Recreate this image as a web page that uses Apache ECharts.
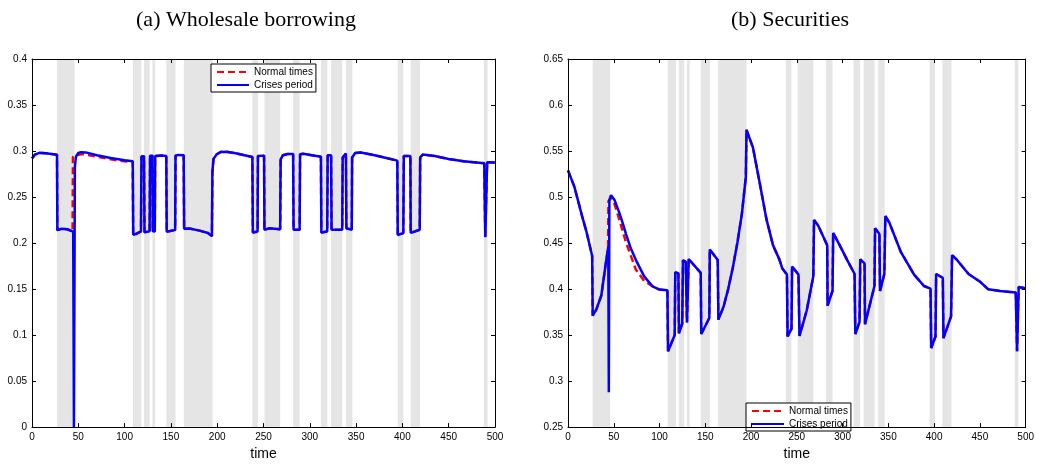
<!DOCTYPE html>
<html>
<head>
<meta charset="utf-8">
<script src="https://cdn.jsdelivr.net/npm/echarts@6/dist/echarts.min.js"></script>
<style>
  html, body { margin: 0; padding: 0; background: #fff; }
  #chart { width: 1037px; height: 466px; }
</style>
</head>
<body>
<div id="chart"></div>
<script>
// Crisis periods (shaded), in model time units
const crisisBands = [
  [27, 46], [109, 118], [121, 127], [130, 133], [145, 155], [164, 195],
  [238, 244], [251, 268], [282, 289], [312, 319], [323, 335], [339, 346],
  [395, 401], [409, 419], [488, 492]
];

// Panel (a): wholesale borrowing, [time, value]
const wholesaleCrisis = [
  [0,0.292],[3,0.296],[8,0.298],[15,0.2975],[27,0.296],
  [27.4,0.214],[32,0.2155],[38,0.215],[44.5,0.2125],
  [45.3,0],[45.9,0],[46.3,0.283],[47.5,0.294],[50,0.2978],[53,0.2988],[58,0.2985],[70,0.2955],[85,0.2925],[100,0.29],[108.8,0.2888],
  [109.3,0.209],[112,0.2098],[117.7,0.2128],
  [118.2,0.294],[121,0.2943],
  [121.5,0.2118],[127,0.2128],
  [127.5,0.2948],[130,0.295],
  [130.4,0.2128],[132.6,0.2128],
  [133,0.2945],[140,0.2952],[145,0.2945],
  [145.5,0.2122],[154.6,0.2143],
  [155,0.295],[158,0.2958],[163.8,0.2955],
  [164.3,0.2155],[170,0.2158],[181,0.2135],[190,0.211],[194.3,0.2075],
  [194.8,0.277],[196,0.2915],[199.5,0.2965],[204,0.299],[210,0.2993],[220,0.2975],[238,0.2935],
  [238.5,0.2115],[243.6,0.2125],
  [244,0.2945],[250.6,0.295],
  [251,0.2145],[256,0.216],[268,0.215],
  [268.5,0.291],[271,0.2955],[276,0.2968],[282,0.2968],
  [282.5,0.2145],[289,0.2145],
  [289.5,0.2965],[293,0.297],[312,0.2938],
  [312.5,0.2115],[318.8,0.2125],
  [319.3,0.2955],[323,0.2955],
  [323.5,0.2145],[335,0.2145],
  [335.5,0.2928],[339,0.2972],
  [339.5,0.216],[345.3,0.2145],
  [345.7,0.293],[349,0.2978],[355,0.2985],[370,0.2955],[385,0.2918],[394.5,0.2896],
  [395,0.2088],[401,0.2108],
  [401.5,0.2945],[408.6,0.2945],
  [409,0.211],[418.7,0.2145],
  [419.2,0.293],[422,0.2962],[435,0.2945],[450,0.2913],[466,0.2888],[488.4,0.2867],
  [489.5,0.2064],[491.5,0.2878],[500,0.2874]
];

const wholesaleNormal = [
  [0,0.292],[3,0.296],[8,0.298],[15,0.2975],[27,0.296],
  [27.4,0.214],[32,0.2155],[38,0.215],[43.8,0.2125],
  [44.2,0.2935],[47,0.2955],[55,0.2968],[70,0.294],[85,0.291],[100,0.2888],[108.8,0.288],
  [109.3,0.2085],[112,0.2098],[117.7,0.2128],
  [118.2,0.294],[121,0.2943],
  [121.5,0.2118],[127,0.2128],
  [127.5,0.2948],[130,0.295],
  [130.4,0.2128],[132.6,0.2128],
  [133,0.2945],[140,0.2952],[145,0.2945],
  [145.5,0.2122],[154.6,0.2143],
  [155,0.295],[158,0.2958],[163.8,0.2955],
  [164.3,0.2155],[170,0.2158],[181,0.2135],[190,0.211],[194.3,0.2075],
  [194.8,0.277],[196,0.2915],[199.5,0.2965],[204,0.299],[210,0.2993],[220,0.2975],[238,0.2935],
  [238.5,0.2115],[243.6,0.2125],
  [244,0.2945],[250.6,0.295],
  [251,0.2145],[256,0.216],[268,0.215],
  [268.5,0.291],[271,0.2955],[276,0.2968],[282,0.2968],
  [282.5,0.2145],[289,0.2145],
  [289.5,0.2965],[293,0.297],[312,0.2938],
  [312.5,0.2115],[318.8,0.2125],
  [319.3,0.2955],[323,0.2955],
  [323.5,0.2145],[335,0.2145],
  [335.5,0.2928],[339,0.2972],
  [339.5,0.216],[345.3,0.2145],
  [345.7,0.293],[349,0.2978],[355,0.2985],[370,0.2955],[385,0.2918],[394.5,0.2896],
  [395,0.2088],[401,0.2108],
  [401.5,0.2945],[408.6,0.2945],
  [409,0.211],[418.7,0.2145],
  [419.2,0.293],[422,0.2962],[435,0.2945],[450,0.2913],[466,0.2888],[488.4,0.2867],
  [489.5,0.2064],[491.5,0.2878],[500,0.2874]
];

// Panel (b): securities, [time, value]
const securitiesCrisis = [
  [0,0.529],[7,0.511],[16,0.477],[20,0.463],[26.4,0.436],
  [27,0.371],[31,0.378],[36.4,0.393],[41.6,0.43],[44,0.446],
  [44.6,0.288],[45.2,0.497],[47,0.502],[50.7,0.497],[56,0.483],[59.7,0.472],[63.3,0.46],[68.7,0.444],[74.2,0.4315],[83.2,0.4138],[92.3,0.403],[100,0.3995],[108.6,0.3987],
  [109.3,0.3325],[116.6,0.35],
  [117.2,0.4185],[120.6,0.417],
  [121.2,0.352],[124.8,0.3626],
  [125.6,0.4312],[128.6,0.4295],
  [130,0.3638],[131.2,0.3645],
  [131.8,0.4327],[145,0.4176],
  [145.6,0.3512],[154.4,0.3685],
  [154.9,0.443],[163.6,0.4316],
  [164.3,0.3668],[170,0.381],[175,0.4],[180,0.423],[185,0.45],[190,0.482],[194.3,0.522],
  [195,0.573],[196.5,0.5725],[202,0.554],[209.5,0.515],[216.8,0.476],[224,0.4475],[231,0.432],[234,0.4227],[239.2,0.4157],
  [239.9,0.3484],[244.2,0.357],
  [244.8,0.4245],[251.8,0.4157],
  [252.9,0.349],[260.8,0.3767],[268,0.4139],
  [268.8,0.475],[273.4,0.4688],[283.2,0.4475],
  [283.6,0.382],[289,0.398],
  [289.7,0.461],[296.9,0.4475],[305.9,0.4298],[313.1,0.4164],
  [313.9,0.3512],[318.5,0.3643],
  [319.3,0.4323],[324,0.428],
  [324.5,0.3619],[334.8,0.4033],
  [335.5,0.466],[340.2,0.4599],
  [340.9,0.398],[345.6,0.4164],
  [346.7,0.4794],[351,0.4723],[363.6,0.4404],[378.1,0.4157],[388.9,0.4033],[396.1,0.4004],
  [396.8,0.336],[401.5,0.3484],
  [402.2,0.4164],[409.5,0.4121],
  [410.2,0.3466],[418.5,0.3704],
  [419.6,0.4369],[425,0.4316],[437.6,0.4164],[450.2,0.4079],[459.2,0.3997],[471.9,0.398],[489.2,0.3962],
  [490.6,0.3325],[492.4,0.4022],[500,0.4008]
];

const securitiesNormal = [
  [0,0.529],[7,0.511],[16,0.477],[20,0.463],[26.4,0.436],
  [27,0.371],[31,0.378],[36.4,0.393],[41.6,0.43],[43.8,0.444],
  [44.2,0.4955],[47,0.4985],[50,0.495],[56,0.4758],[63.3,0.451],[68.7,0.436],[74.2,0.421],[83.2,0.409],[92.3,0.403],[100,0.3995],[108.6,0.3987],
  [109.3,0.3325],[116.6,0.35],
  [117.2,0.4185],[120.6,0.417],
  [121.2,0.352],[124.8,0.3626],
  [125.6,0.4312],[128.6,0.4295],
  [130,0.3638],[131.2,0.3645],
  [131.8,0.4327],[145,0.4176],
  [145.6,0.3512],[154.4,0.3685],
  [154.9,0.443],[163.6,0.4316],
  [164.3,0.3668],[170,0.381],[175,0.4],[180,0.423],[185,0.45],[190,0.482],[194.3,0.522],
  [195,0.573],[196.5,0.5725],[202,0.554],[209.5,0.515],[216.8,0.476],[224,0.4475],[231,0.432],[234,0.4227],[239.2,0.4157],
  [239.9,0.3484],[244.2,0.357],
  [244.8,0.4245],[251.8,0.4157],
  [252.9,0.349],[260.8,0.3767],[268,0.4139],
  [268.8,0.475],[273.4,0.4688],[283.2,0.4475],
  [283.6,0.382],[289,0.398],
  [289.7,0.461],[296.9,0.4475],[305.9,0.4298],[313.1,0.4164],
  [313.9,0.3512],[318.5,0.3643],
  [319.3,0.4323],[324,0.428],
  [324.5,0.3619],[334.8,0.4033],
  [335.5,0.466],[340.2,0.4599],
  [340.9,0.398],[345.6,0.4164],
  [346.7,0.4794],[351,0.4723],[363.6,0.4404],[378.1,0.4157],[388.9,0.4033],[396.1,0.4004],
  [396.8,0.336],[401.5,0.3484],
  [402.2,0.4164],[409.5,0.4121],
  [410.2,0.3466],[418.5,0.3704],
  [419.6,0.4369],[425,0.4316],[437.6,0.4164],[450.2,0.4079],[459.2,0.3997],[471.9,0.398],[489.2,0.3962],
  [490.6,0.3325],[492.4,0.4022],[500,0.4008]
];

const panelTitles = ['(a) Wholesale borrowing', '(b) Securities'];
const seriesNames = ['Normal times', 'Crises period'];

const SANS = '"Liberation Sans", Arial, sans-serif';
const bandAreas = crisisBands.map(([s, e]) => [{ xAxis: s }, { xAxis: e }]);

function xAxisFor(grid, pos) {
  return {
    type: 'value', gridIndex: grid, position: pos,
    min: 0, max: 500, interval: 50, z: 10,
    name: pos === 'bottom' ? 'time' : '',
    nameLocation: 'middle', nameGap: 15,
    nameTextStyle: { fontFamily: SANS, fontSize: 14, color: '#000' },
    axisLine: { show: true, onZero: false, lineStyle: { color: '#000', width: 1 } },
    axisTick: { show: true, inside: true, length: 4, lineStyle: { color: '#000', width: 1 } },
    axisLabel: { show: pos === 'bottom', margin: 5, fontFamily: SANS, fontSize: 10, color: '#000' },
    splitLine: { show: false }
  };
}
function yAxisFor(grid, pos, min, max) {
  return {
    type: 'value', gridIndex: grid, position: pos,
    min: min, max: max, interval: 0.05, z: 10,
    axisLine: { show: true, onZero: false, lineStyle: { color: '#000', width: 1 } },
    axisTick: { show: true, inside: true, length: 4, lineStyle: { color: '#000', width: 1 } },
    axisLabel: { show: pos === 'left', margin: 5, fontFamily: SANS, fontSize: 10, color: '#000' },
    splitLine: { show: false }
  };
}
function lineSeries(name, data, xi, yi, isNormal, withBands) {
  const s = {
    name: name, type: 'line', xAxisIndex: xi, yAxisIndex: yi,
    data: data, symbol: 'none', animation: false,
    z: isNormal ? 2 : 3,
    itemStyle: { color: isNormal ? '#ff0000' : '#0000ff' },
    lineStyle: isNormal
      ? { color: '#ff0000', width: 2.5, type: [7, 4] }
      : { color: '#0000ff', width: 2.5 }
  };
  if (withBands) {
    s.markArea = { silent: true, itemStyle: { color: '#e5e5e5' }, data: bandAreas };
  }
  return s;
}
function legendAt(left, top) {
  return {
    data: seriesNames, orient: 'vertical', left: left, top: top,
    selectedMode: false, itemWidth: 32, itemHeight: 11, itemGap: 3,
    padding: [3, 3, 2, 5],
    backgroundColor: '#fff', borderColor: '#000', borderWidth: 1, borderRadius: 0,
    // legend keys show the line only, no point marker
    itemStyle: { opacity: 0 },
    textStyle: { fontFamily: SANS, fontSize: 10, color: '#000' }
  };
}

const chart = echarts.init(document.getElementById('chart'), null, { renderer: 'canvas' });
chart.setOption({
  animation: false,
  backgroundColor: '#fff',
  grid: [
    { left: 32, top: 59, width: 463, height: 377 },
    { left: 568, top: 59, width: 461, height: 377 }
  ],
  xAxis: [xAxisFor(0, 'bottom'), xAxisFor(0, 'top'), xAxisFor(1, 'bottom'), xAxisFor(1, 'top')],
  yAxis: [yAxisFor(0, 'left', 0, 0.4), yAxisFor(0, 'right', 0, 0.4),
          yAxisFor(1, 'left', 0.25, 0.65), yAxisFor(1, 'right', 0.25, 0.65)],
  legend: [legendAt(211, 64), legendAt(746, 403)],
  graphic: [
    { type: 'text', x: 246, y: 20, style: { text: panelTitles[0], font: '22px "Liberation Serif", serif', fill: '#000', textAlign: 'center', textVerticalAlign: 'middle' } },
    { type: 'text', x: 790, y: 20, style: { text: panelTitles[1], font: '22px "Liberation Serif", serif', fill: '#000', textAlign: 'center', textVerticalAlign: 'middle' } }
  ],
  series: [
    lineSeries(seriesNames[0], wholesaleNormal, 0, 0, true, true),
    lineSeries(seriesNames[1], wholesaleCrisis, 0, 0, false, false),
    lineSeries(seriesNames[0], securitiesNormal, 2, 2, true, true),
    lineSeries(seriesNames[1], securitiesCrisis, 2, 2, false, false)
  ]
});
</script>
</body>
</html>
